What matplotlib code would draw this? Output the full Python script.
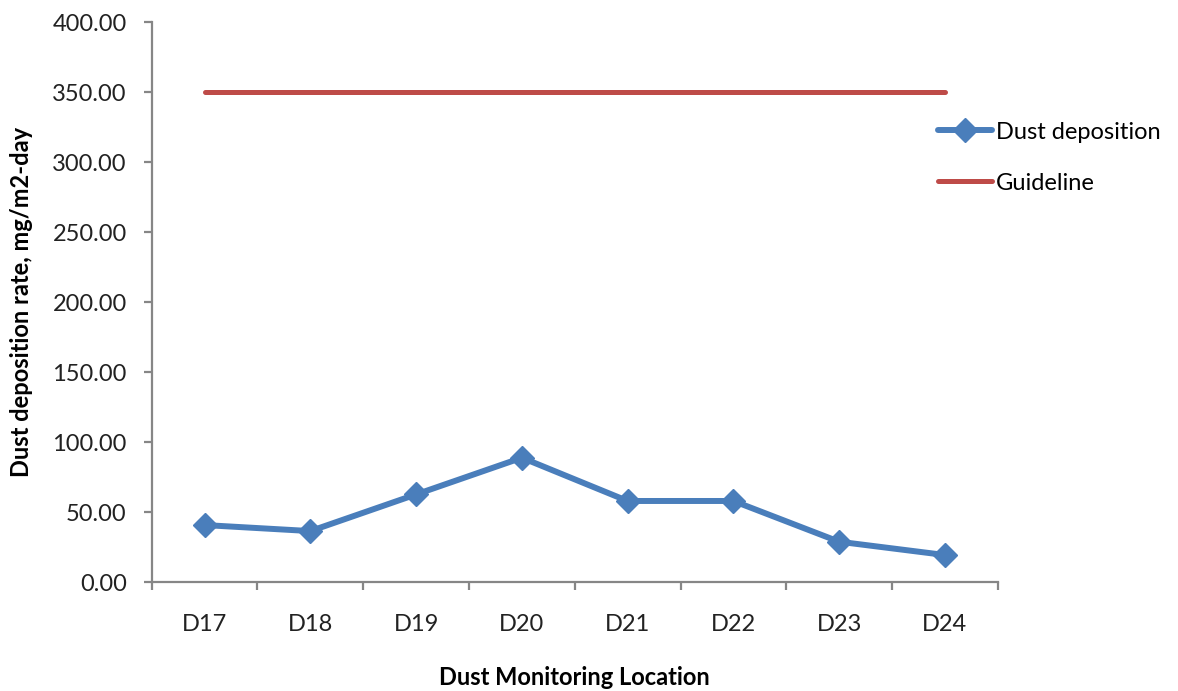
import numpy as np
import matplotlib.pyplot as plt
from matplotlib.ticker import FixedLocator, FuncFormatter

plt.rcParams['font.family'] = ['Lato', 'DejaVu Sans']

# dust deposition per monitoring location (mg/m2-day)
locations = ["D17", "D18", "D19", "D20", "D21", "D22", "D23", "D24"]
deposition = [40.7, 36.4, 62.6, 88.8, 57.9, 57.9, 28.8, 19.3]
guideline = [350.0] * len(locations)

BLUE = "#4A7EBB"
RED = "#BE4B48"
GREY = "#868686"
FS = 17

fig = plt.figure(figsize=(11.78, 6.91), dpi=100)
ax = fig.add_axes([0.1288, 0.1577, 0.847 - 0.1288, 0.968 - 0.1577])

x = np.arange(len(locations))
ax.plot(x, deposition, color=BLUE, lw=4.3, marker="D", ms=12.5,
        solid_capstyle="round", label="Dust deposition")
ax.plot(x, guideline, color=RED, lw=3.6, solid_capstyle="round",
        label="Guideline")

ax.set_xlim(-0.5, len(locations) - 0.5)
ax.set_ylim(0, 400)
ax.set_yticks(np.arange(0, 401, 50))
ax.yaxis.set_major_formatter(FuncFormatter(lambda v, _: f"{v:.2f}"))

# category labels centred, tick marks at the category boundaries
ax.set_xticks(x)
ax.set_xticklabels(locations)
ax.xaxis.set_minor_locator(FixedLocator(np.arange(-0.5, len(locations), 1.0)))
ax.tick_params(axis="x", which="major", length=0, pad=23, labelsize=FS,
               labelcolor="#222222")
ax.tick_params(axis="x", which="minor", length=6, width=1.6, color=GREY,
               direction="out")
ax.tick_params(axis="y", length=6, width=1.6, color=GREY, pad=12,
               labelsize=FS, labelcolor="#222222")

for side in ("top", "right"):
    ax.spines[side].set_visible(False)
for side in ("left", "bottom"):
    ax.spines[side].set_color(GREY)
    ax.spines[side].set_linewidth(1.6)

ax.set_xlabel("Dust Monitoring Location", fontsize=FS, fontweight="bold",
              labelpad=22)
ax.set_ylabel("Dust deposition rate, mg/m2-day", fontsize=FS,
              fontweight="bold", labelpad=14)

fig.legend(loc="upper left", bbox_to_anchor=(0.796, 0.824), frameon=False,
           fontsize=FS, handlelength=2.3, handletextpad=0.15, labelspacing=1.27,
           borderaxespad=0.0, borderpad=0.0)

fig.savefig("out.png", dpi=100)
